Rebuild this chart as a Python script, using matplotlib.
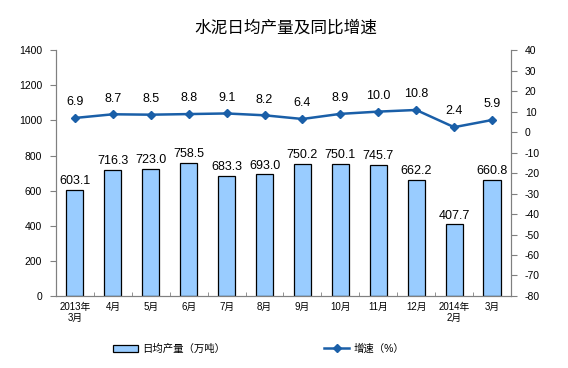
import matplotlib
matplotlib.use("Agg")
import matplotlib.pyplot as plt
import numpy as np

plt.rcParams["font.family"] = ["Liberation Sans", "Noto Sans CJK SC", "DejaVu Sans"]
plt.rcParams["axes.unicode_minus"] = False

# 数据
meses = ["2013年\n3月", "4月", "5月", "6月", "7月", "8月", "9月", "10月", "11月", "12月", "2014年\n2月", "3月"]
producao = [603.1, 716.3, 723.0, 758.5, 683.3, 693.0, 750.2, 750.1, 745.7, 662.2, 407.7, 660.8]
crescimento = [6.9, 8.7, 8.5, 8.8, 9.1, 8.2, 6.4, 8.9, 10.0, 10.8, 2.4, 5.9]

cor_barra = "#99CCFF"
cor_linha = "#1A5FA8"
cor_eixo = "#808080"

fig = plt.figure(figsize=(5.68, 3.68), dpi=100)
ax = fig.add_axes([0.0986, 0.1957, 0.801, 0.668])
ax2 = ax.twinx()

x = np.arange(len(meses))
barras = ax.bar(x, producao, width=0.45, color=cor_barra, edgecolor="black",
                linewidth=0.9, label="日均产量（万吨）", zorder=2)
for xi, v in zip(x, producao):
    ax.annotate(f"{v:.1f}", (xi, v), xytext=(0, 2), textcoords="offset points",
                ha="center", va="bottom", fontsize=9)

linha, = ax2.plot(x, crescimento, color=cor_linha, linewidth=1.8, marker="D",
                  markersize=4, label="增速（%）", zorder=3)
for xi, v in zip(x, crescimento):
    ax2.annotate(f"{v:.1f}", (xi, v), xytext=(0, 7), textcoords="offset points",
                 ha="center", va="bottom", fontsize=9)

# Eixos
ax.set_xlim(-0.5, len(meses) - 0.5)
ax.set_ylim(0, 1400)
ax.set_yticks(range(0, 1401, 200))
ax2.set_ylim(-80, 40)
ax2.set_yticks(range(-80, 41, 10))

ax.set_xticks(x)
ax.set_xticklabels(meses, fontsize=7)
ax.set_xticks(np.arange(-0.5, len(meses), 1), minor=True)
ax.tick_params(axis="x", which="major", length=0, pad=4)
ax.tick_params(axis="x", which="minor", length=3, direction="in", color=cor_eixo)
ax.tick_params(axis="y", labelsize=7.5, length=4, color=cor_eixo, pad=6)
ax2.tick_params(axis="y", labelsize=7.5, length=4, color=cor_eixo, pad=6)

for a in (ax, ax2):
    a.spines["top"].set_visible(False)
    for s in ("left", "right", "bottom"):
        a.spines[s].set_color(cor_eixo)

fig.text(0.503, 0.924, "水泥日均产量及同比增速", ha="center", va="center", fontsize=12)

fig.legend([barras, linha], ["日均产量（万吨）", "增速（%）"], loc="center",
           bbox_to_anchor=(0.455, 0.052), ncol=2, frameon=False, fontsize=7.5,
           handlelength=2.4, columnspacing=9.5, handletextpad=0.4)

fig.savefig("out.png", dpi=100)
plt.close()
